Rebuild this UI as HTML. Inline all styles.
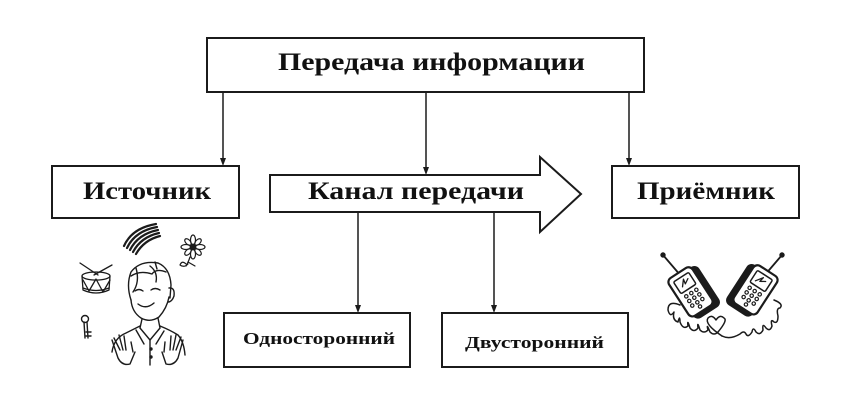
<!DOCTYPE html>
<html><head><meta charset="utf-8"><style>
html,body{margin:0;padding:0;background:#fff;}
svg{display:block;}
text{font-family:"Liberation Serif","DejaVu Serif",serif;font-weight:bold;fill:#111;}
</style></head><body>
<svg width="849" height="409" viewBox="0 0 849 409" xmlns="http://www.w3.org/2000/svg">
<rect width="849" height="409" fill="#fff"/>
<g fill="none" stroke="#1b1b1b" stroke-width="2">
  <rect x="207" y="38" width="437" height="54"/>
  <rect x="52" y="166" width="187" height="52"/>
  <rect x="612" y="166" width="187" height="52"/>
  <rect x="224" y="313" width="186" height="54"/>
  <rect x="442" y="313" width="186" height="54"/>
  <polygon points="270,175 540,175 540,157 581,194 540,232 540,212 270,212" fill="#fff"/>
</g>
<g stroke="#1b1b1b" stroke-width="1.5" fill="none">
  <line x1="223" y1="92" x2="223" y2="160"/>
  <line x1="426" y1="92" x2="426" y2="169"/>
  <line x1="629" y1="92" x2="629" y2="160"/>
  <line x1="358" y1="213" x2="358" y2="307"/>
  <line x1="494" y1="213" x2="494" y2="307"/>
</g>
<g fill="#1b1b1b">
  <polygon points="220,158 226,158 223,166"/>
  <polygon points="423,167 429,167 426,175"/>
  <polygon points="626,158 632,158 629,166"/>
  <polygon points="355,305 361,305 358,313"/>
  <polygon points="491,305 497,305 494,313"/>
</g>
<text x="278" y="70" font-size="25" textLength="307" lengthAdjust="spacingAndGlyphs">Передача информации</text>
<text x="83" y="199" font-size="25" textLength="128" lengthAdjust="spacingAndGlyphs">Источник</text>
<text x="308" y="199" font-size="25" textLength="216" lengthAdjust="spacingAndGlyphs">Канал передачи</text>
<text x="637" y="199" font-size="25" textLength="138" lengthAdjust="spacingAndGlyphs">Приёмник</text>
<text x="243" y="344" font-size="17" textLength="152" lengthAdjust="spacingAndGlyphs">Односторонний</text>
<text x="465" y="348" font-size="17" textLength="139" lengthAdjust="spacingAndGlyphs">Двусторонний</text>

<!-- Source illustration -->
<g stroke="#1b1b1b" fill="none" stroke-linecap="round" stroke-linejoin="round">
  <!-- rainbow -->
  <g stroke-width="2.2">
    <path d="M124,246 Q132,228 156,224"/>
    <path d="M127,248 Q135,231 157,227"/>
    <path d="M130,250 Q138,234 158,230"/>
    <path d="M133,252 Q141,237 159,233"/>
    <path d="M136,254 Q144,240 160,236"/>
  </g>
  <!-- flower -->
  <g stroke-width="1.2">
    <ellipse cx="193" cy="240" rx="2.5" ry="5"/>
    <ellipse cx="193" cy="254" rx="2.5" ry="5"/>
    <ellipse cx="186" cy="247" rx="5" ry="2.5"/>
    <ellipse cx="200" cy="247" rx="5" ry="2.5"/>
    <ellipse cx="188" cy="242" rx="4" ry="2.3" transform="rotate(45 188 242)"/>
    <ellipse cx="198" cy="252" rx="4" ry="2.3" transform="rotate(45 198 252)"/>
    <ellipse cx="198" cy="242" rx="4" ry="2.3" transform="rotate(-45 198 242)"/>
    <ellipse cx="188" cy="252" rx="4" ry="2.3" transform="rotate(-45 188 252)"/>
    <path d="M190,257 Q188,263 186,266"/>
    <path d="M186,264 Q182,260 180,265 Q184,268 188,264"/>
    <path d="M188,262 L195,266"/>
  </g>
  <circle cx="193" cy="247" r="3" fill="#1b1b1b"/>
  <!-- drum -->
  <g stroke-width="1.3">
    <ellipse cx="96" cy="276" rx="14" ry="4"/>
    <path d="M82,276 L83,290 Q96,296 109,290 L110,276"/>
    <path d="M83,288 Q96,293 109,288"/>
    <path d="M83,280 L89,291 L96,279 L103,292 L110,280"/>
    <line x1="80" y1="263" x2="98" y2="275"/>
    <line x1="112" y1="265" x2="94" y2="275"/>
  </g>
  <!-- key -->
  <g stroke-width="1.4">
    <circle cx="85" cy="319" r="3.5"/>
    <path d="M84,322 L85,338 M87,322 L88,338"/>
    <path d="M86,332 L91,332 M86,336 L91,336"/>
  </g>
  <!-- boy -->
  <g stroke-width="1.4">
    <path d="M131,300 Q126,285 131,272 Q140,260 158,263 Q170,268 171,285 L170,298"/>
    <path d="M131,300 Q132,312 141,318 Q150,323 159,317 Q167,308 169,297"/>
    <path d="M169,288 Q175,287 174,296 Q172,302 168,302"/>
    <path d="M131,276 Q140,270 152,274 Q156,268 166,272"/>
    <path d="M136,268 Q140,282 133,292"/>
    <path d="M150,266 Q158,272 156,282"/>
    <path d="M155,262 L157,269"/>
    <path d="M135,291 Q139,288 143,291"/>
    <path d="M151,290 Q155,287 160,290"/>
    <path d="M138,304 Q146,310 154,303"/>
    <path d="M142,319 L140,328 M158,318 L160,328"/>
    <path d="M140,326 Q132,330 126,333 Q114,338 112,352"/>
    <path d="M160,326 Q170,330 178,335 Q184,342 185,355"/>
    <path d="M140,328 L150,340 L160,328"/>
    <path d="M136,330 L144,344 M164,331 L156,344"/>
    <path d="M150,340 L150,365"/>
    <path d="M112,340 L118,358 Q122,366 130,364 L135,352 M114,338 L120,350 M119,335 L123,350 M124,336 L126,350 M131,342 L133,352"/>
    <path d="M183,340 L178,358 Q174,366 166,364 L162,352 M181,337 L176,350 M176,335 L173,350 M171,336 L170,350 M165,342 L164,352"/>
  </g>
  <circle cx="151" cy="349" r="1.2" fill="#1b1b1b"/>
  <circle cx="151" cy="357" r="1.2" fill="#1b1b1b"/>
</g>

<!-- Receiver illustration: phones -->
<g stroke="#1b1b1b" fill="none" stroke-linecap="round" stroke-linejoin="round">
  <line x1="663" y1="255" x2="681" y2="276" stroke-width="1.8"/>
  <circle cx="663" cy="255" r="2.2" fill="#1b1b1b"/>
  <line x1="782" y1="255" x2="764" y2="276" stroke-width="1.8"/>
  <circle cx="782" cy="255" r="2.2" fill="#1b1b1b"/>
  <g transform="translate(693,292) rotate(-33)">
    <rect x="-12" y="-21" width="29" height="46" rx="5" fill="#1b1b1b" stroke-width="2"/>
    <rect x="-16" y="-24" width="28" height="45" rx="5" fill="#fff" stroke-width="2.2"/>
    <rect x="-11" y="-19" width="18" height="14" rx="1.5" stroke-width="1.5"/>
    <path d="M-6,-10 L-1,-16 L-2,-11 L3,-14" stroke-width="1.3"/>
    <g stroke-width="1.2">
      <circle cx="-8" cy="0" r="1.7"/><circle cx="-2" cy="0" r="1.7"/><circle cx="4" cy="0" r="1.7"/>
      <circle cx="-8" cy="5.5" r="1.7"/><circle cx="-2" cy="5.5" r="1.7"/><circle cx="4" cy="5.5" r="1.7"/>
      <circle cx="-8" cy="11" r="1.7"/><circle cx="-2" cy="11" r="1.7"/><circle cx="4" cy="11" r="1.7"/>
      <circle cx="-2" cy="16" r="1.7"/>
    </g>
  </g>
  <g transform="translate(753,290) rotate(33)">
    <rect x="-17" y="-21" width="29" height="46" rx="5" fill="#1b1b1b" stroke-width="2"/>
    <rect x="-12" y="-24" width="28" height="45" rx="5" fill="#fff" stroke-width="2.2"/>
    <rect x="-7" y="-19" width="18" height="14" rx="1.5" stroke-width="1.5"/>
    <path d="M-3,-9 L2,-16 L1,-11 L6,-14" stroke-width="1.3"/>
    <g stroke-width="1.2">
      <circle cx="-4" cy="0" r="1.7"/><circle cx="2" cy="0" r="1.7"/><circle cx="8" cy="0" r="1.7"/>
      <circle cx="-4" cy="5.5" r="1.7"/><circle cx="2" cy="5.5" r="1.7"/><circle cx="8" cy="5.5" r="1.7"/>
      <circle cx="-4" cy="11" r="1.7"/><circle cx="2" cy="11" r="1.7"/><circle cx="8" cy="11" r="1.7"/>
      <circle cx="2" cy="16" r="1.7"/>
    </g>
  </g>
  <!-- cords -->
  <g stroke-width="1.5">
    <path d="M680,305 Q668,300 668,310 Q670,318 674,312 Q672,320 678,322 Q680,314 680,322 Q683,330 688,326 Q687,318 690,328 Q694,333 698,328 Q697,320 700,330 Q704,334 708,330 Q706,322 710,332 Q714,336 718,332"/>
    <path d="M718,332 Q728,320 724,318 Q720,314 716,320 Q712,314 708,318 Q704,324 722,336"/>
    <path d="M722,336 Q730,340 740,334 Q744,330 746,334 Q748,338 752,332 Q753,326 756,332 Q760,336 763,330 Q762,322 766,328 Q770,332 772,326 Q770,318 774,322 Q778,324 778,316 Q776,308 780,308 Q784,304 774,300"/>
  </g>
</g>
</svg>
</body></html>
